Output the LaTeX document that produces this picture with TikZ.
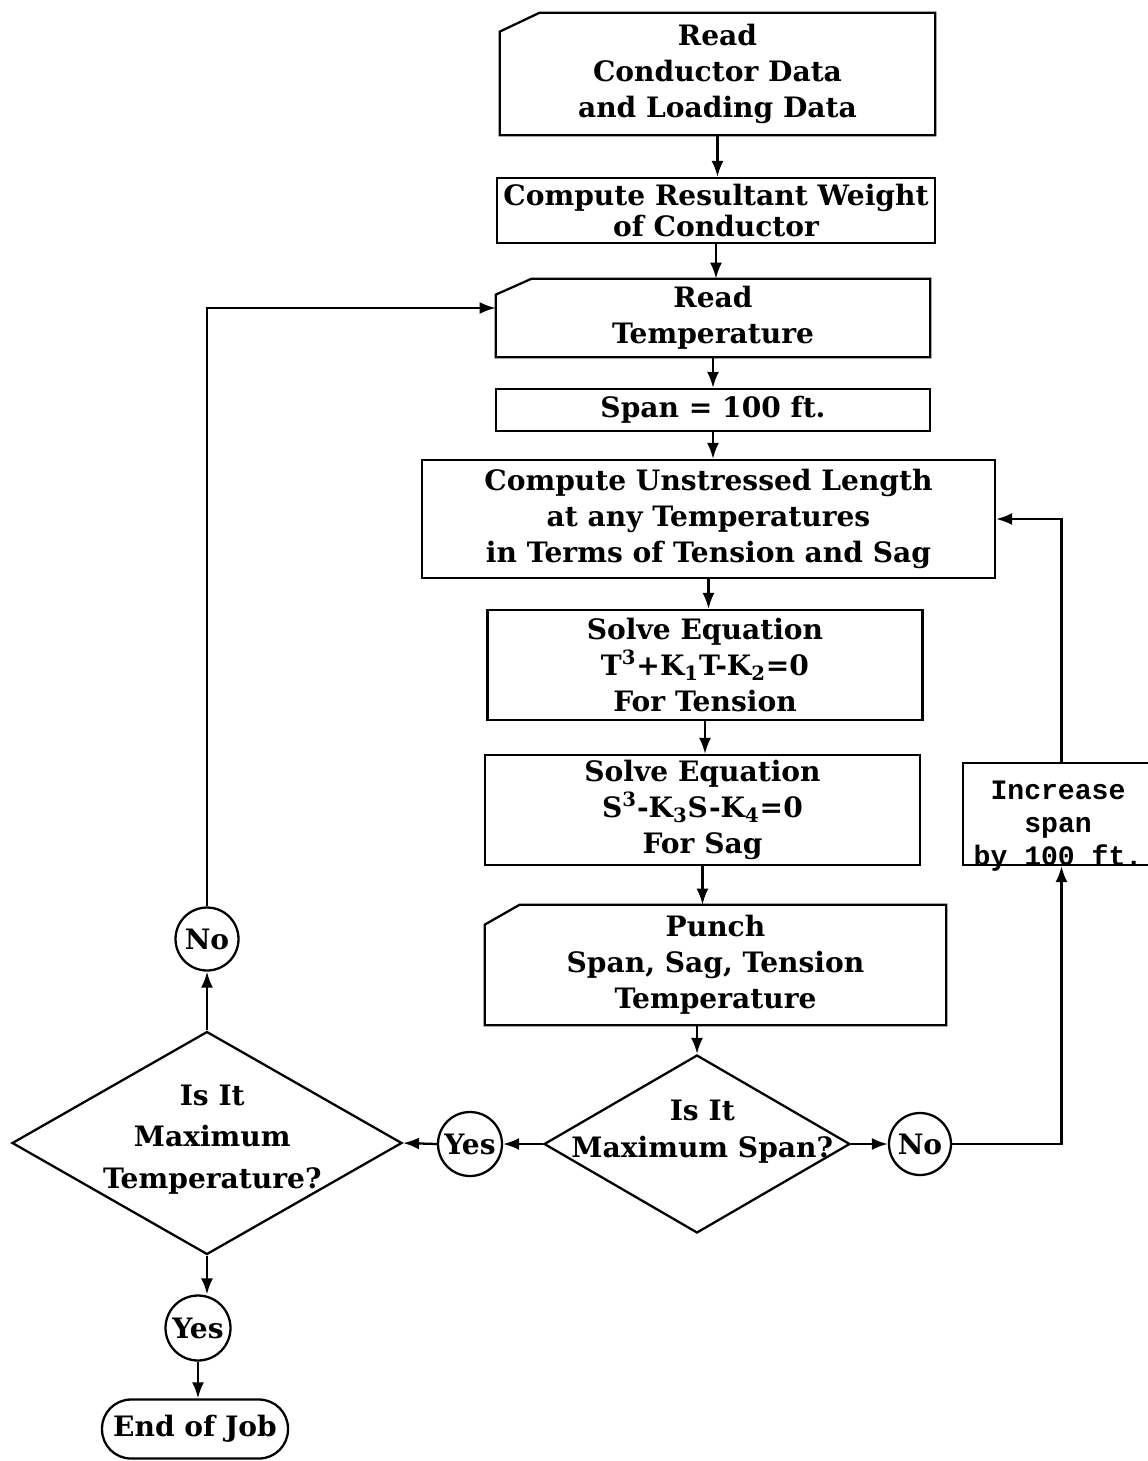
\documentclass[tikz,border=0pt]{standalone}
\usepackage{fontspec}
\setmainfont{DejaVu Serif}
\newfontfamily\monofnt{Liberation Mono}
\usetikzlibrary{shapes.geometric,arrows.meta,calc}
\newcommand{\bodyfnt}{\fontsize{16}{20.5}\selectfont\bfseries}
\newcommand{\cardoutline}[3]{\draw[thickline] (#1.south west) -- ($(#1.north west)+(0,#3)$) -- ($(#1.north west)+(#2,0)$) -- (#1.north east) -- (#1.south east) -- cycle;}
\begin{document}
\begin{tikzpicture}[x=0.02cm,y=-0.02cm,
  thickline/.style={line width=1.3pt},
  arr/.style={thickline,-{Latex[length=0.32cm,width=0.24cm]}},
  flowbox/.style={draw,thickline,rectangle,inner sep=0pt,align=center,font=\bodyfnt},
  cardbox/.style={rectangle,inner sep=0pt,align=center,font=\bodyfnt},
  conn/.style={draw,thickline,circle,inner sep=0pt,font=\bodyfnt},
  decision/.style={draw,thickline,diamond,inner sep=0pt}]
\clip (0,0) rectangle (1148,1461);
\useasboundingbox (0,0) rectangle (1148,1461);
\fill[white] (0,0) rectangle (1148,1461);

\node[cardbox,minimum width=8.7cm,minimum height=2.44cm] (read1) at (717.5,74) {Read\\Conductor Data\\and Loading Data};
\cardoutline{read1}{40}{19}
\node[flowbox,minimum width=8.76cm,minimum height=1.3cm,font={\fontsize{16}{17.6}\selectfont\bfseries}] (comp1) at (716,210.5) {Compute Resultant Weight\\of Conductor};
\node[cardbox,minimum width=8.68cm,minimum height=1.56cm] (read2) at (713,318) {Read\\Temperature};
\cardoutline{read2}{36}{16}
\node[flowbox,minimum width=8.68cm,minimum height=0.84cm] (span) at (713,410) {Span = 100 ft.};
\node[flowbox,minimum width=11.46cm,minimum height=2.36cm] (unstr) at (708.5,519) {Compute Unstressed Length\\at any Temperatures\\in Terms of Tension and Sag};
\node[flowbox,minimum width=8.7cm,minimum height=2.2cm] (tens) at (705,665) {Solve Equation\\T\textsuperscript{3}+K\textsubscript{1}T-K\textsubscript{2}=0\\For Tension};
\node[flowbox,minimum width=8.7cm,minimum height=2.2cm] (sag) at (702.5,810) {Solve Equation\\S\textsuperscript{3}-K\textsubscript{3}S-K\textsubscript{4}=0\\For Sag};
\node[cardbox,minimum width=9.22cm,minimum height=2.4cm] (punch) at (715.5,965) {Punch\\Span, Sag, Tension\\Temperature};
\cardoutline{punch}{35}{20}

\node[decision,minimum width=6.12cm,minimum height=3.56cm,
  label={[font=\bodyfnt,align=center,yshift=7pt,xshift=3pt]center:Is It\\[1pt]Maximum Span?}] (dspan) at (697,1144) {};
\node[conn,minimum size=1.24cm] (nospan) at (920,1144) {\makebox[0pt]{No}};
\node[draw,thickline,rectangle,minimum width=3.94cm,minimum height=2.04cm] (incr) at (1061.5,814) {};
\node[align=center,font={\fontsize{16}{18.8}\monofnt\bfseries}] (incrtxt) at (1058,826) {Increase\\span\\by 100 ft.};
\node[conn,minimum size=1.28cm] (yes1) at (470,1144) {\makebox[0pt]{Yes}};
\node[decision,minimum width=7.8cm,minimum height=4.46cm,
  label={[font=\bodyfnt,align=center,yshift=2pt,xshift=3pt]center:Is It\\[3pt]Maximum\\[3pt]Temperature?}] (dtemp) at (207,1143) {};
\node[conn,minimum size=1.26cm] (no2) at (207,939) {\makebox[0pt]{No}};
\node[conn,minimum size=1.3cm] (yes2) at (198,1328) {\makebox[0pt]{Yes}};
\node[draw,thickline,rectangle,rounded corners=0.58cm,minimum width=3.72cm,minimum height=1.18cm,inner sep=0pt,font=\bodyfnt] (endjob) at (195,1429) {End of Job};

\draw[arr] (read1.south) -- (read1.south |- comp1.north);
\draw[arr] (comp1.south) -- (comp1.south |- read2.north);
\draw[arr] (read2.south) -- (read2.south |- span.north);
\draw[arr] (span.south) -- (span.south |- unstr.north);
\draw[arr] (unstr.south) -- (unstr.south |- tens.north);
\draw[arr] (tens.south) -- (tens.south |- sag.north);
\draw[arr] (sag.south) -- (sag.south |- punch.north);
\draw[arr] (dspan.north |- punch.south) -- (dspan.north);
\draw[arr] (dspan.east) -- (nospan.west);
\draw[arr] (nospan.east) -- (nospan.east -| incr.south) -- (incr.south);
\draw[arr] (incr.north) |- (unstr.east);
\draw[arr] (dspan.west) -- (yes1.east);
\draw[arr] (yes1.west) -- (dtemp.east);
\draw[arr] (dtemp.north) -- (no2.south);
\draw[arr] (no2.north) |- ($(read2.west)+(0,-10)$);
\draw[arr] (dtemp.south) -- (dtemp.south |- yes2.north);
\draw[arr] (yes2.south) -- (yes2.south |- endjob.north);
\end{tikzpicture}
\end{document}
